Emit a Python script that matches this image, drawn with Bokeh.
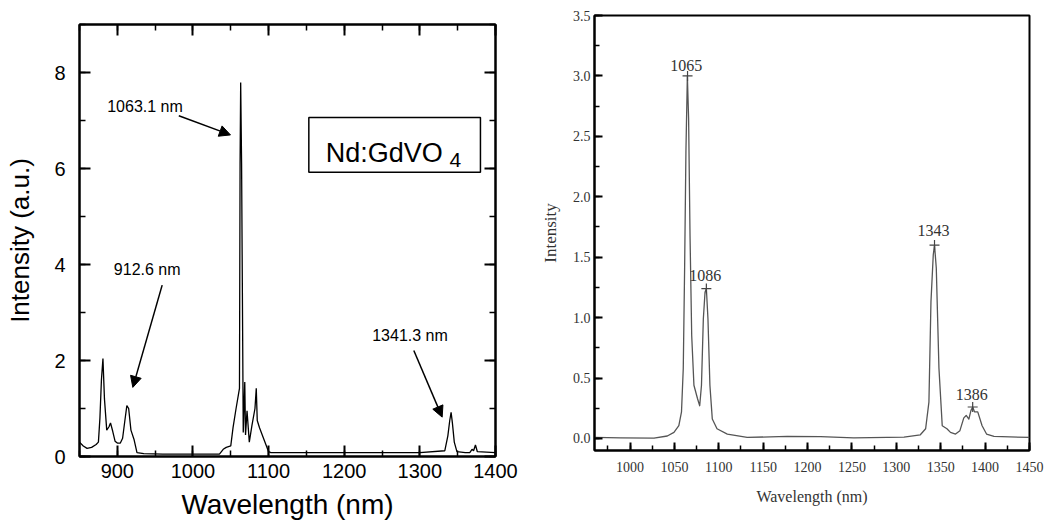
from bokeh.plotting import figure
from bokeh.layouts import row
from bokeh.models import (Range1d, SingleIntervalTicker, LinearAxis, Label, Arrow,
                          NormalHead, BoxAnnotation, CustomJSTickFormatter, PrintfTickFormatter)
from bokeh.embed import file_html
from bokeh.resources import INLINE

# ---------------- Left panel: Nd:GdVO4 spectrum ----------------
nd_wavelength = [850, 855, 860, 866, 872, 875, 877, 879, 881, 883,
                 886, 889, 891, 894, 897, 900, 904, 907, 910, 912.6,
                 915, 918, 922, 926, 935, 960, 1000, 1035, 1040, 1044,
                 1050, 1053, 1057, 1061.5, 1062.3, 1063.1, 1064.3, 1066.5, 1068.5, 1069.5,
                 1071.5, 1074.5, 1078, 1082, 1083.7, 1085, 1088, 1094, 1100, 1103,
                 1200, 1300, 1333, 1337, 1339.5, 1341.3, 1343, 1345.5, 1349, 1360,
                 1366, 1369, 1371, 1373.5, 1376, 1400]
nd_intensity = [0.30, 0.22, 0.17, 0.19, 0.25, 0.30, 0.80, 1.60, 2.04, 1.20,
                0.55, 0.62, 0.70, 0.52, 0.32, 0.28, 0.28, 0.38, 0.75, 1.06,
                1.00, 0.55, 0.36, 0.08, 0.06, 0.05, 0.05, 0.05, 0.15, 0.19,
                0.22, 0.60, 1.00, 1.42, 6.10, 7.79, 6.10, 0.50, 1.55, 0.45,
                0.95, 0.30, 0.65, 1.00, 1.42, 0.75, 0.60, 0.35, 0.10, 0.08,
                0.08, 0.08, 0.12, 0.43, 0.75, 0.92, 0.70, 0.30, 0.10, 0.08,
                0.08, 0.15, 0.12, 0.24, 0.10, 0.08]

nd_labels = ["912.6 nm", "1063.1 nm", "1341.3 nm"]
nd_label_x = [895.4, 886.6, 1237.0]
nd_label_y = [3.89, 7.30, 2.53]
nd_arrow_x0 = [959.3, 981.3, 1292.0]
nd_arrow_y0 = [3.57, 7.10, 2.21]
nd_arrow_x1 = [920.5, 1049.6, 1329.5]
nd_arrow_y1 = [1.44, 6.70, 0.82]

# ---------------- Right panel: intensity spectrum ----------------
gd_wavelength = [960, 989.5, 1027, 1042, 1049.5, 1055, 1058, 1060, 1061.5, 1063,
                 1064.6, 1066, 1067.6, 1069.5, 1072, 1076, 1078.5, 1080.5, 1082.6, 1084.5,
                 1086, 1087.8, 1090, 1092.7, 1098, 1109.6, 1132, 1177, 1214.7, 1252,
                 1308.6, 1327, 1333, 1336.7, 1339, 1341.6, 1343, 1345, 1348, 1351.7,
                 1357, 1361, 1366.7, 1371.6, 1376, 1378.7, 1381.7, 1384, 1386, 1388,
                 1391.7, 1396.6, 1401.6, 1410, 1450]
gd_intensity = [0.008, 0.005, 0.003, 0.02, 0.05, 0.105, 0.22, 0.58, 1.4, 2.38,
                3.0, 2.65, 1.68, 0.85, 0.44, 0.33, 0.27, 0.44, 0.99, 1.21,
                1.24, 0.99, 0.44, 0.16, 0.08, 0.036, 0.008, 0.017, 0.014, 0.005,
                0.011, 0.03, 0.08, 0.3, 1.13, 1.52, 1.6, 1.41, 0.58, 0.105,
                0.08, 0.05, 0.036, 0.064, 0.17, 0.19, 0.16, 0.23, 0.26, 0.22,
                0.22, 0.105, 0.036, 0.017, 0.008]

gd_peak_labels = ["1065", "1086", "1343", "1386"]
gd_peak_x = [1064.8, 1086, 1343, 1386]
gd_peak_y = [3.0, 1.24, 1.6, 0.26]
gd_label_x = [1063.3, 1084.7, 1341.8, 1385.0]
gd_label_y = [3.09, 1.347, 1.718, 0.36]

SANS = "Liberation Sans"
SERIF = "Liberation Serif"

# ================= Left figure =================
p1 = figure(width=528, height=528, x_range=Range1d(850, 1400), y_range=Range1d(0, 9),
            title=None, output_backend="svg", toolbar_location=None, frame_align=False,
            min_border_left=79, min_border_right=33, min_border_top=24, min_border_bottom=72)
p1.grid.visible = False
p1.background_fill_color = None
p1.border_fill_color = None
p1.outline_line_color = "black"
p1.outline_line_width = 2

xt1 = SingleIntervalTicker(interval=100, num_minor_ticks=2)
yt1 = SingleIntervalTicker(interval=2, num_minor_ticks=2)
p1.xaxis.ticker = xt1
p1.yaxis.ticker = yt1
for ax in (p1.xaxis[0], p1.yaxis[0]):
    ax.axis_line_width = 2
    ax.major_tick_in = 11
    ax.major_tick_out = 0
    ax.minor_tick_in = 6
    ax.minor_tick_out = 0
    ax.major_tick_line_width = 2
    ax.minor_tick_line_width = 1.5
    ax.major_label_text_font = SANS
    ax.major_label_text_font_size = "20px"
    ax.major_label_text_color = "black"
    ax.axis_label_text_font = SANS
    ax.axis_label_text_font_style = "normal"
    ax.axis_label_text_color = "black"
p1.xaxis.axis_label = "Wavelength (nm)"
p1.xaxis.axis_label_text_font_size = "28px"
p1.xaxis.major_label_standoff = 7
p1.xaxis.axis_label_standoff = 8
p1.yaxis.axis_label = "Intensity (a.u.)"
p1.yaxis.axis_label_text_font_size = "26px"
p1.yaxis.major_label_standoff = 14
p1.yaxis.axis_label_standoff = 16

blank = CustomJSTickFormatter(code="return ''")
for loc, tk in (("above", xt1), ("right", yt1)):
    ax = LinearAxis(ticker=tk, formatter=blank, axis_line_width=2,
                    major_tick_in=11, major_tick_out=0, minor_tick_in=6, minor_tick_out=0,
                    major_tick_line_width=2, minor_tick_line_width=1.5,
                    major_label_standoff=0)
    p1.add_layout(ax, loc)

p1.line(nd_wavelength, nd_intensity, line_color="black", line_width=1.3)

for t, x, y in zip(nd_labels, nd_label_x, nd_label_y):
    p1.add_layout(Label(x=x, y=y, text=t, text_font=SANS, text_font_size="16px",
                        text_color="black", text_baseline="alphabetic", text_align="left"))
for x0, y0, x1, y1 in zip(nd_arrow_x0, nd_arrow_y0, nd_arrow_x1, nd_arrow_y1):
    p1.add_layout(Arrow(x_start=x0, y_start=y0, x_end=x1, y_end=y1, line_width=1.5,
                        line_color="black",
                        end=NormalHead(size=11, fill_color="black", line_color="black",
                                       line_width=1)))

p1.add_layout(BoxAnnotation(left=1153.2, right=1380.1, bottom=5.92, top=7.06,
                            fill_alpha=0, line_color="black", line_width=1.5, line_alpha=1))
p1.add_layout(Label(x=1175.5, y=6.33, text="Nd:GdVO", text_font=SANS, text_font_size="27px",
                    text_color="black", text_baseline="alphabetic"))
p1.add_layout(Label(x=1339.2, y=6.17, text="4", text_font=SANS, text_font_size="21px",
                    text_color="black", text_baseline="alphabetic"))

# ================= Right figure =================
p2 = figure(width=531, height=528, x_range=Range1d(960, 1450), y_range=Range1d(-0.1, 3.5),
            title=None, output_backend="svg", toolbar_location=None, frame_align=False,
            min_border_left=66, min_border_right=30, min_border_top=15, min_border_bottom=78)
p2.grid.visible = False
p2.background_fill_color = None
p2.border_fill_color = None
p2.outline_line_color = "black"
p2.outline_line_width = 2

p2.xaxis.ticker = SingleIntervalTicker(interval=50, num_minor_ticks=2)
p2.yaxis.ticker = SingleIntervalTicker(interval=0.5, num_minor_ticks=2)
p2.yaxis.formatter = PrintfTickFormatter(format="%.1f")
for ax in (p2.xaxis[0], p2.yaxis[0]):
    ax.axis_line_width = 2
    ax.major_tick_in = 8
    ax.major_tick_out = 0
    ax.minor_tick_in = 5
    ax.minor_tick_out = 0
    ax.major_tick_line_width = 2
    ax.minor_tick_line_width = 1.5
    ax.major_label_text_font = SERIF
    ax.major_label_text_color = "#333333"
    ax.axis_label_text_font = SERIF
    ax.axis_label_text_font_style = "normal"
    ax.axis_label_text_color = "#333333"
p2.xaxis.major_label_text_font_size = "14px"
p2.yaxis.major_label_text_font_size = "14px"
p2.xaxis.axis_label = "Wavelength (nm)"
p2.xaxis.axis_label_text_font_size = "16px"
p2.xaxis.major_label_standoff = 11
p2.xaxis.axis_label_standoff = 13
p2.yaxis.axis_label = "Intensity"
p2.yaxis.axis_label_text_font_size = "17px"
p2.yaxis.major_label_standoff = 4
p2.yaxis.axis_label_standoff = 10

p2.line(gd_wavelength, gd_intensity, line_color="#555555", line_width=1.3, line_join="round")
p2.scatter(gd_peak_x, gd_peak_y, marker="cross", size=10, line_color="#444444", line_width=1.2)
p2.text(gd_label_x, gd_label_y, text=gd_peak_labels, text_font={"value": SERIF},
        text_font_size={"value": "16px"}, text_color="#333333", text_align="center",
        text_baseline="alphabetic")

layout = row(p1, p2)
open("out.html", "w").write(file_html(layout, INLINE))
